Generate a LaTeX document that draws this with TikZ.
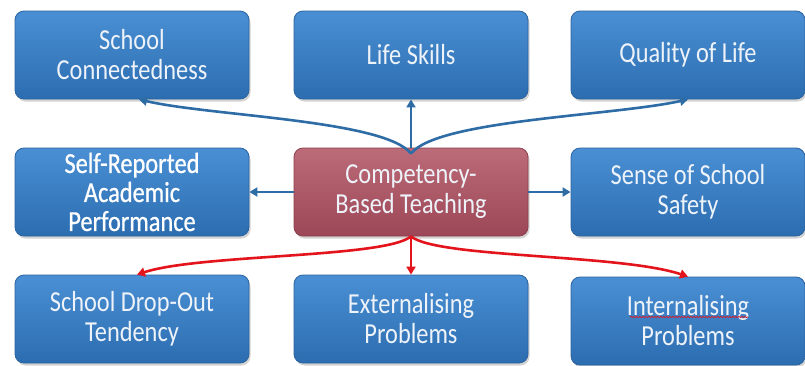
\documentclass[tikz,border=0pt]{standalone}
\usepackage{fontspec}
\setmainfont[FakeStretch=0.84]{Carlito}
\newfontfamily\boldish[FakeStretch=0.84,FakeBold=0.7]{Carlito}
\usetikzlibrary{shadows,arrows.meta,decorations.pathmorphing,calc}
\definecolor{bluetop}{HTML}{4A8FD4}
\definecolor{bluebot}{HTML}{2C6DB0}
\definecolor{blueedge}{HTML}{2A62A0}
\definecolor{rosetop}{HTML}{BC6B78}
\definecolor{rosebot}{HTML}{9C4757}
\definecolor{roseedge}{HTML}{8E3E4C}
\definecolor{linkblue}{HTML}{2E6CA6}
\definecolor{linkred}{HTML}{E3141B}
\definecolor{txtwhite}{HTML}{EEF3F9}
\tikzset{
  box/.style={rectangle, rounded corners=9pt, minimum width=234pt, minimum height=88pt,
    top color=bluetop, bottom color=bluebot, draw=blueedge, line width=0.8pt,
    drop shadow={shadow xshift=1.5pt, shadow yshift=-2.5pt, opacity=0.35},
    text=txtwhite, align=center, font=\fontsize{29}{30}\selectfont, inner sep=2pt},
  hub/.style={box, top color=rosetop, bottom color=rosebot, draw=roseedge},
  blink/.style={draw=linkblue, line width=2.6pt, -{Triangle[length=8pt,width=9pt]}},
  rlink/.style={draw=linkred, line width=2.6pt, -{Triangle[length=8pt,width=9pt]}},
}
\begin{document}
\begin{tikzpicture}[x=1pt,y=-1pt]
\useasboundingbox (0,0) rectangle (805,365);
% top row
\node[box] (sc) at (132,55) {School\\Connectedness};
\node[box] (ls) at (411,55) {Life Skills};
\node[box] (ql) at (688,55) {Quality of Life};
% middle row
\node[box, text=white, font=\fontsize{29}{29}\boldish] (sr) at (132,192) {Self-Reported\\Academic\\Performance};
\node[hub] (cb) at (411,192) {Competency-\\Based Teaching};
\node[box] (ss) at (688,192) {Sense of School\\Safety};
% bottom row
\node[box] (sd) at (132,319) {School Drop-Out\\Tendency};
\node[box] (ep) at (411,319) {Externalising\\Problems};
\node[box] (ip) at (688,321) {Internalising\\Problems};
% spell-check underline
\coordinate (ul1) at (630,317);
\coordinate (ul2) at (748,317);
\draw[linkred, line width=0.6pt, decorate, decoration={snake, amplitude=0.8pt, segment length=3pt}]
  (ul1) -- (ul2);
% blue links
\coordinate (bj) at ($(cb.north)+(0,6)$);
\draw[blink] (cb.north) -- (ls.south);
\draw[blink] (bj) .. controls (385,120) and (210,116) .. ([xshift=7pt]sc.south);
\draw[blink] (bj) .. controls (437,120) and (612,116) .. (ql.south);
\draw[blink] (cb.west) -- (sr.east);
\draw[blink] (cb.east) -- (ss.west);
% red links
\draw[rlink] (cb.south) -- (ep.north);
\draw[rlink] (cb.south) .. controls (385,258) and (200,254) .. ([xshift=5pt]sd.north);
\draw[rlink] (cb.south) .. controls (437,258) and (620,254) .. (ip.north);
\end{tikzpicture}
\end{document}
